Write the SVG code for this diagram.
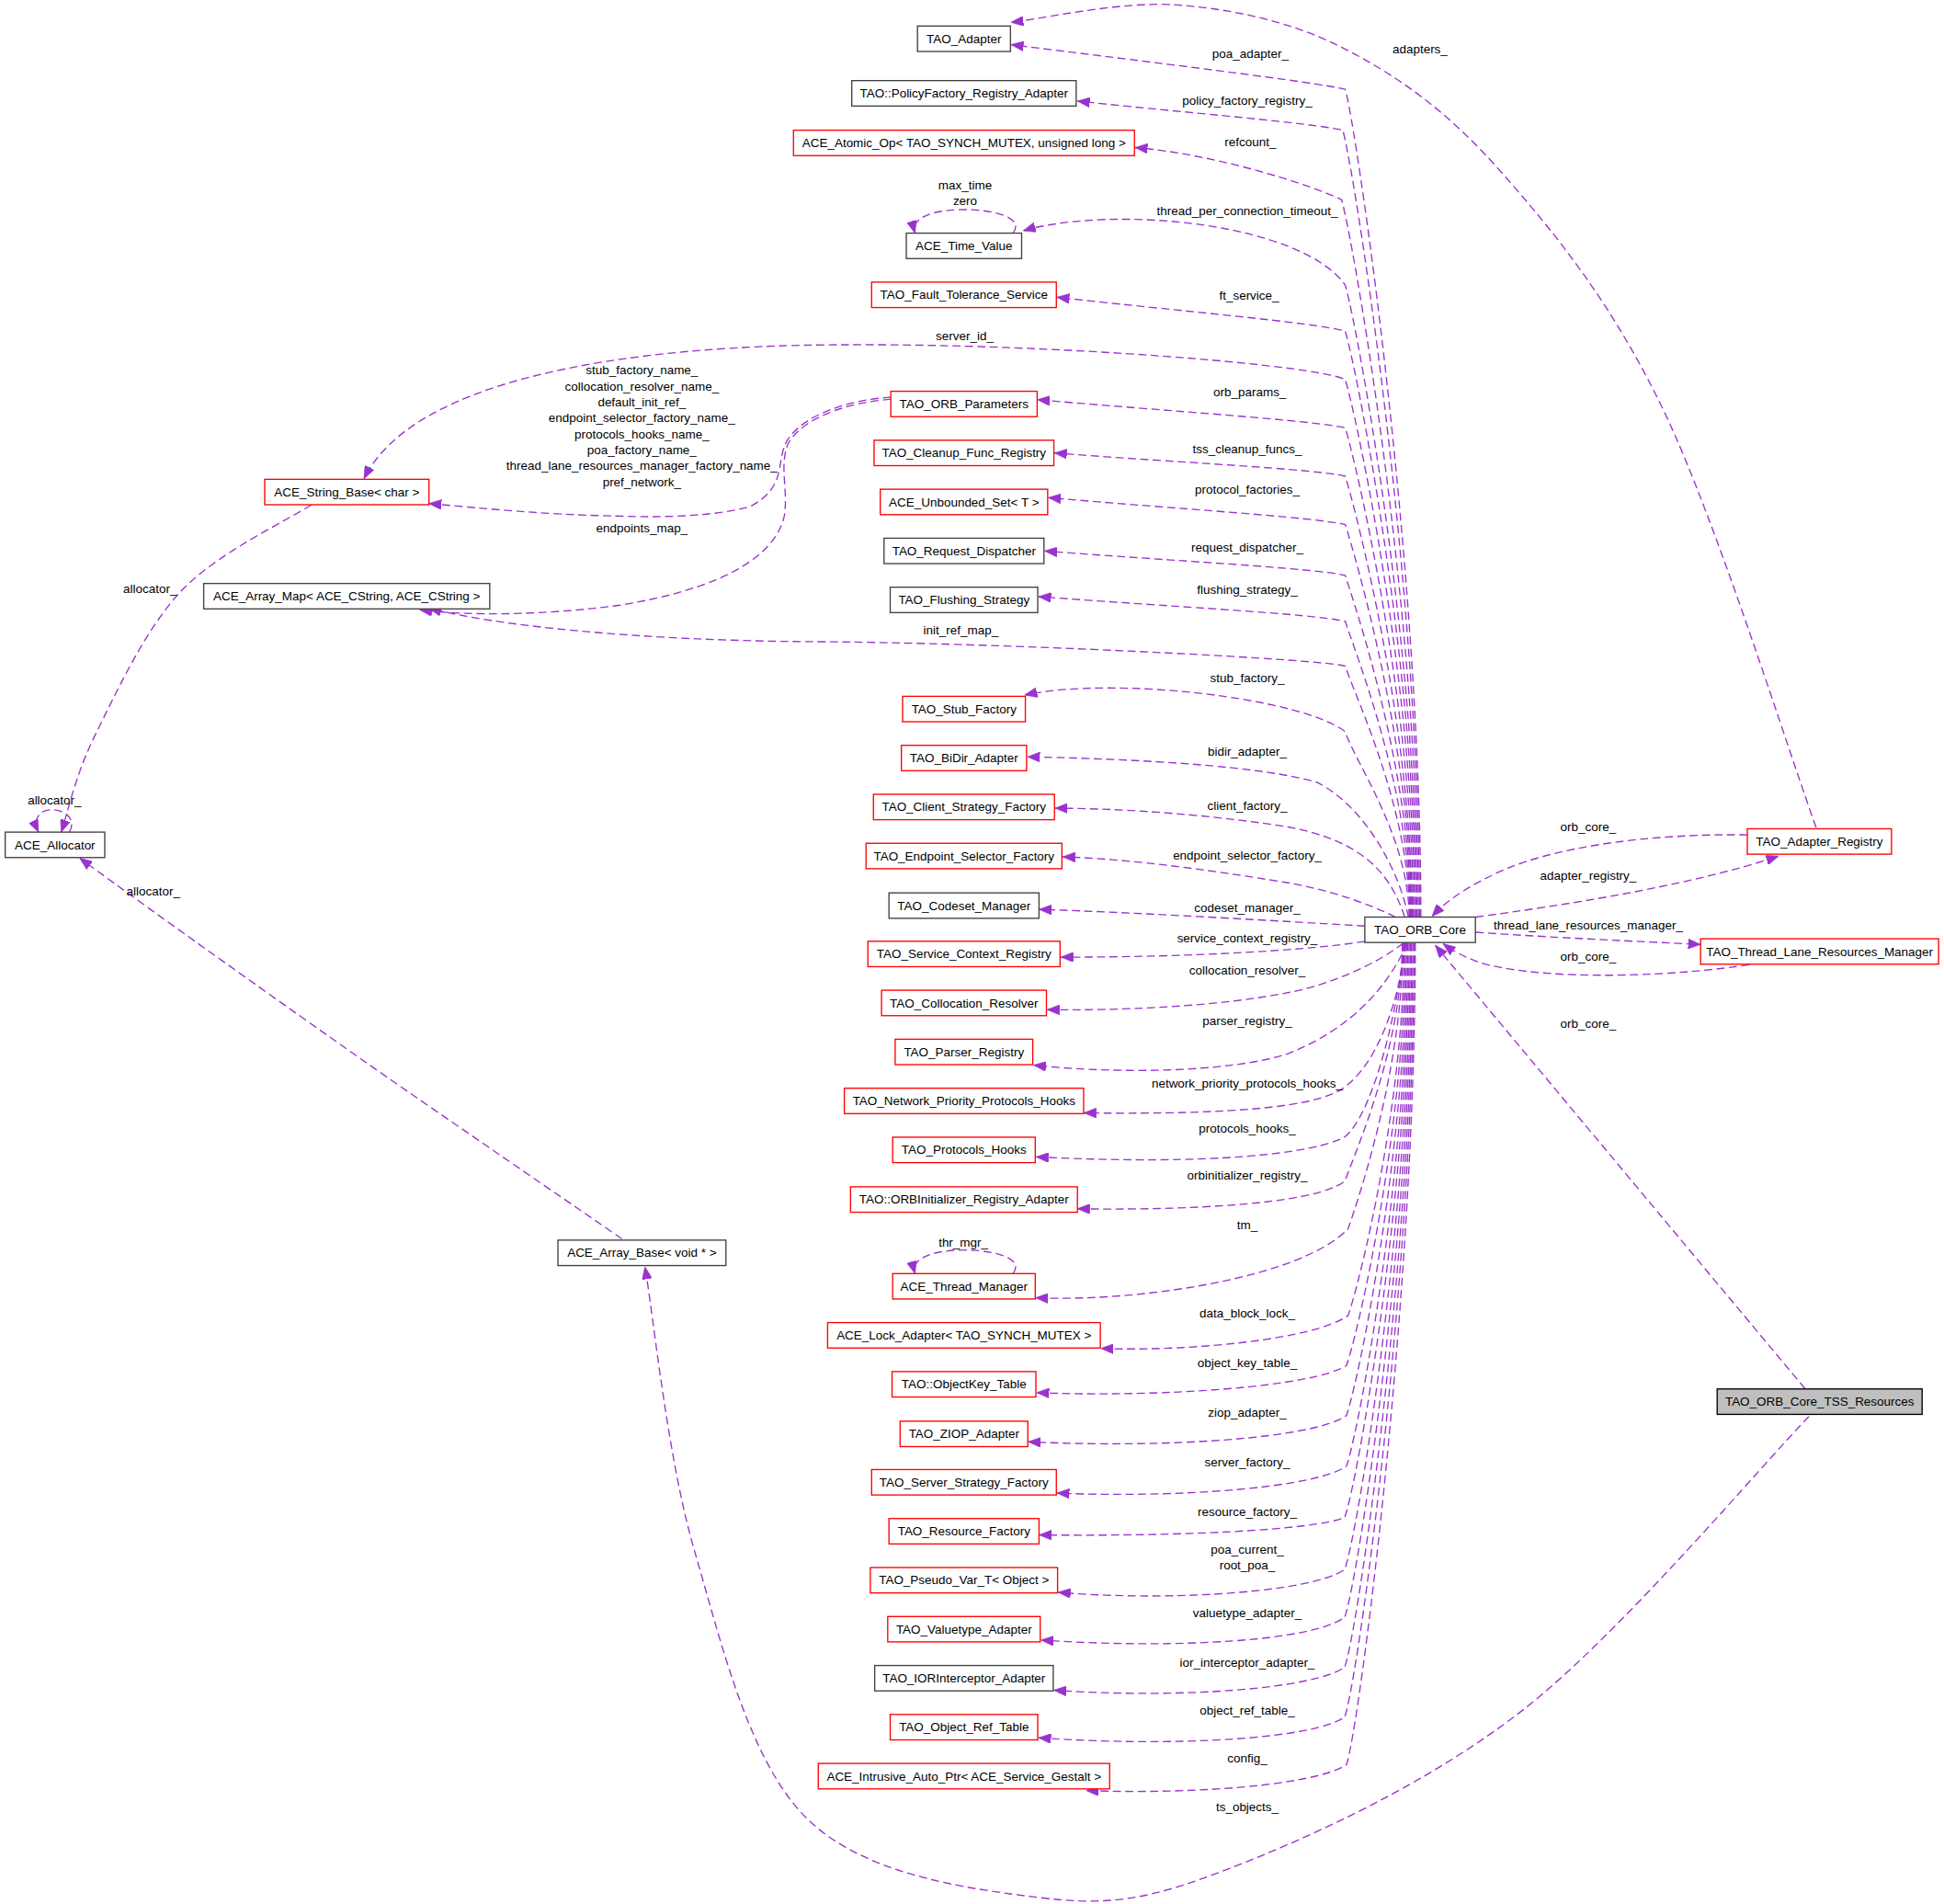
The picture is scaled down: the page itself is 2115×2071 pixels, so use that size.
<svg xmlns="http://www.w3.org/2000/svg" width="2115" height="2071" viewBox="0 0 2115 2071">
<defs>
<style>
text{font-family:"Liberation Sans",Arial,Helvetica,sans-serif;font-size:10px;fill:#000}
.node rect{fill:#fff;stroke:#404040;stroke-width:1}
.node.red rect{stroke:#ff0000}
.node.cur rect{fill:#bfbfbf;stroke:#000}
.node text{text-anchor:middle}
.edges path{fill:none;stroke:#9a32cd;stroke-width:1;stroke-dasharray:6.5 3.5;marker-end:url(#ah)}
.edges text{text-anchor:middle}
</style>
<marker id="ah" viewBox="0 0 10 8" refX="10" refY="4" markerWidth="10" markerHeight="8" markerUnits="userSpaceOnUse" orient="auto">
<path d="M0,0 L10,4 L0,8 z" fill="#9a32cd" stroke="#9a32cd" stroke-width="0.5"/>
</marker>
</defs>
<rect width="2115" height="2071" fill="#fff"/>
<g transform="scale(1.3489)">
<g id="edges" class="edges">
<!-- upper edges from TAO_ORB_Core -->
<path d="M1146,739.5 C1146,452.5 1093,97 1085,72 C1060,66 930,50.4 815.5,36"/>
<path d="M1145,739.5 C1145,466.7 1091,130 1083,105 C1058,99 956,90.9 869,81.5"/>
<path d="M1144,739.5 C1144,490.7 1090,186 1082,161 C1060,150 980,124 915.5,119"/>
<path d="M1143,739.5 C1143,520.4 1093,255 1085,230 C1050,180 900,165 825.3,186"/>
<path d="M1142,739.5 C1142,536.3 1093,292 1085,267 C1060,260 948.8,250.6 852.5,239.7"/>
<path d="M1141,739.5 C1141,553 1093,331 1085,306 C1060,294 850,277 682,278 C560,278 340,292 293.6,386"/>
<path d="M1140,739.5 C1140,569.9 1093,370 1085,345 C1060,339 941,331.4 836.7,322.3"/>
<path d="M1139,739.5 C1139,586.6 1093,409 1085,384 C1060,378 947.8,372.8 850.5,365.3"/>
<path d="M1138.5,739.5 C1138.5,603.4 1093,448 1085,423 C1060,417 945.3,410 845.6,401.3"/>
<path d="M1138,739.5 C1138,621 1093,489 1085,464 C1060,458 943.8,452.2 842.6,444.3"/>
<path d="M1137.5,739.5 C1137.5,637 1093,526 1085,501 C1060,495 941.4,489 837.7,481.1"/>
<path d="M1137,739.5 C1137,652.4 1093,562 1085,537 C1060,531 800,518 652,517.4 C520,516.5 400,505 346,490.3"/>
<path d="M1136.5,739.5 C1136.5,675 1093,615 1085,590 C1050,563 900,545 826.5,560.4"/>
<path d="M1136,739.5 C1128,700 1100,650 1062.5,631 C1020,618 920,612 828.8,610.3"/>
<path d="M1133,739.5 C1120,700 1095,678 1040,667 C990,659 920,652 851,651.7"/>
<path d="M1125.5,739.5 C1105,729 1070,717 1037.8,711.7 C990,704 920,693 857.2,690.9"/>
<path d="M1100.8,746.7 C1020,742 920,736 838.2,733.3"/>
<path d="M1100.8,759 C1060,766 960,772 855.7,771.8"/>
<path d="M1131.7,760.5 C1110,778 1070,795 1037.8,800.6 C990,810 920,815 844.6,814.2"/>
<path d="M1135,760.5 C1120,795 1090,830 1037.8,850 C990,865 900,866 833.7,858.9"/>
<path d="M1134,760.5 C1128,810 1110,860 1082,878.4 C1060,892 1000,899 874.2,897.4"/>
<path d="M1133,760.5 C1125,830 1105,900 1084.8,916.7 C1060,930 980,940 835.7,932.9"/>
<!-- lower edges -->
<path d="M1131,760.5 C1131,843 1095,924 1084.8,952.4 C1060,972 950,976 869,974.7"/>
<path d="M1131.5,760.5 C1131.5,859.6 1097,963 1087.3,990.9 C1050,1030 920,1050 835.2,1046.5"/>
<path d="M1132.5,760.5 C1132.5,889.7 1097,1033 1087.3,1060.9 C1060,1080 960,1090 888,1087.3"/>
<path d="M1133.5,760.5 C1133.5,907 1096,1073 1086,1101.1 C1060,1118 940,1127 836.2,1123"/>
<path d="M1134.5,760.5 C1134.5,924.3 1096,1113 1086,1141.4 C1060,1160 940,1168 829.3,1162.6"/>
<path d="M1135.5,760.5 C1135.5,941.9 1096,1154 1086,1182.3 C1060,1200 950,1208 852.5,1204"/>
<path d="M1136.5,760.5 C1136.5,959.6 1095,1195 1084.6,1223.6 C1060,1234 950,1239 838.2,1237.7"/>
<path d="M1137.5,760.5 C1137.5,977.7 1095,1237 1084.6,1265.6 C1060,1283 950,1292 853.5,1284"/>
<path d="M1138.5,760.5 C1138.5,994.2 1095,1276 1084.6,1304 C1060,1323 950,1330 839.7,1322.5"/>
<path d="M1139.5,760.5 C1139.5,1011.5 1095,1316 1084.6,1344.3 C1060,1362 950,1370 850,1362.9"/>
<path d="M1140.5,760.5 C1140.5,1028.8 1095,1356 1084.6,1384.5 C1060,1402 950,1409 837.7,1401.3"/>
<path d="M1141.5,760.5 C1141.5,1045.4 1096,1395 1086,1423 C1060,1440 960,1447 876,1443.8"/>
<!-- self loops -->
<path d="M817,188 C827,175 800,169 778,169 C756,169 734,174 738,188"/>
<path d="M817,1027 C827,1014 800,1008 778,1008 C756,1008 734,1013 738,1027"/>
<path d="M56,671 C62,660 52,653 42,653 C32,653 26,660 31,671"/>
<!-- left side -->
<path d="M251,407.2 C233.5,418.7 174.9,445.9 145.8,476.9 C116.7,507.9 92.7,560.6 76.6,593 C60.5,625.4 53.9,658 49.4,671"/>
<path d="M501.6,999 C467,975 363,904 296.5,857.7 C230,811 130,740 64.3,692"/>
<path d="M718.5,320.3 C690,322 650,332 635,355 C625,372 636,392 605,408.5 C570,418 520,417 494,416 C440,415 390,410 346,406"/>
<path d="M718.5,322 C690,324 650,334 636,357 C628,375 636,395 632.6,416 C625,450 580,475 500,488 C440,496 380,497 338.5,491.7"/>
<path d="M1459,1142.2 C1420.6,1181.6 1306.6,1318 1228.4,1378.8 C1150.2,1439.7 1055.2,1482.1 990,1507.3 C924.8,1532.5 893.7,1537 837,1530 C780.3,1523 695.9,1512 649.7,1465.3 C603.5,1418.6 581.6,1324 560,1250 C538.4,1176 526.8,1059.6 520.2,1021.5"/>
<!-- right side -->
<path d="M1456,1120 L1157.7,762.3"/>
<path d="M1409.3,673.2 C1330,672 1250,683 1205,705 C1180,717 1165,728 1155,739"/>
<path d="M1190.3,739.5 C1260,730 1360,715 1434.5,690.4"/>
<path d="M1190.3,751.7 C1250,756 1320,759 1371.6,761.6"/>
<path d="M1410.7,777.9 C1360,786 1260,792 1200,778 C1185,774 1172,767 1164,761"/>
<path d="M1464.8,667.2 C1444.3,611.2 1384.2,419.1 1341.8,331 C1299.4,242.9 1253.3,187 1210.5,138.4 C1167.7,89.8 1128.2,61.9 1084.8,39.5 C1041.4,17.1 994.9,7.6 950,4 C905.1,0.4 837.8,15.7 815.4,18"/>
<!-- labels -->
<text x="1145.3" y="43">adapters_</text>
<text x="1008.5" y="46.7">poa_adapter_</text>
<text x="1006" y="84.5">policy_factory_registry_</text>
<text x="1008.5" y="117.7">refcount_</text>
<text x="778.4" y="152.9">max_time</text>
<text x="778.4" y="165.6">zero</text>
<text x="1006" y="173.5">thread_per_connection_timeout_</text>
<text x="1007.5" y="241.5">ft_service_</text>
<text x="778" y="274.2">server_id_</text>
<text x="1008" y="319.3">orb_params_</text>
<text x="1006" y="365.6">tss_cleanup_funcs_</text>
<text x="1006" y="398.2">protocol_factories_</text>
<text x="1006" y="444.5">request_dispatcher_</text>
<text x="1006" y="479.1">flushing_strategy_</text>
<text x="775" y="511.5">init_ref_map_</text>
<text x="1006" y="550.2">stub_factory_</text>
<text x="1006" y="609.6">bidir_adapter_</text>
<text x="1006" y="653.3">client_factory_</text>
<text x="1006" y="693.5">endpoint_selector_factory_</text>
<text x="1006" y="735.2">codeset_manager_</text>
<text x="1006" y="760">service_context_registry_</text>
<text x="1006" y="785.5">collocation_resolver_</text>
<text x="1006" y="826.9">parser_registry_</text>
<text x="1006" y="877">network_priority_protocols_hooks_</text>
<text x="1006" y="913">protocols_hooks_</text>
<text x="1006" y="951.5">orbinitializer_registry_</text>
<text x="1006" y="991.3">tm_</text>
<text x="777" y="1005">thr_mgr_</text>
<text x="1006" y="1062.4">data_block_lock_</text>
<text x="1006" y="1102.5">object_key_table_</text>
<text x="1006" y="1142.7">ziop_adapter_</text>
<text x="1006" y="1182.4">server_factory_</text>
<text x="1006" y="1222.5">resource_factory_</text>
<text x="1006" y="1252.6">poa_current_</text>
<text x="1006" y="1265.6">root_poa_</text>
<text x="1006" y="1304.1">valuetype_adapter_</text>
<text x="1006" y="1343.9">ior_interceptor_adapter_</text>
<text x="1006" y="1382.4">object_ref_table_</text>
<text x="1006" y="1421.3">config_</text>
<text x="1006" y="1460.4">ts_objects_</text>
<text x="517.7" y="301.7">stub_factory_name_</text>
<text x="517.7" y="315.1">collocation_resolver_name_</text>
<text x="517.7" y="327.5">default_init_ref_</text>
<text x="517.7" y="340.5">endpoint_selector_factory_name_</text>
<text x="517.7" y="353.8">protocols_hooks_name_</text>
<text x="517.7" y="366.2">poa_factory_name_</text>
<text x="517.7" y="378.6">thread_lane_resources_manager_factory_name_</text>
<text x="517.7" y="392.1">pref_network_</text>
<text x="517.7" y="429.3">endpoints_map_</text>
<text x="121" y="478.5">allocator_</text>
<text x="44" y="648.9">allocator_</text>
<text x="123.6" y="722">allocator_</text>
<text x="1281" y="670.5">orb_core_</text>
<text x="1281" y="709.5">adapter_registry_</text>
<text x="1281" y="749.5">thread_lane_resources_manager_</text>
<text x="1281" y="775">orb_core_</text>
<text x="1281" y="829">orb_core_</text>
</g>
<!-- nodes -->
<g id="n_TAO_Adapter" class="node"><rect x="740" y="21" width="75" height="20.5"/><text x="777.5" y="34.7">TAO_Adapter</text></g>
<g id="n_PolicyFactory_Registry_Adapter" class="node"><rect x="687" y="65" width="181" height="20.5"/><text x="777.5" y="78.7">TAO::PolicyFactory_Registry_Adapter</text></g>
<g id="n_ACE_Atomic_Op" class="node red"><rect x="640" y="105" width="275" height="20.5"/><text x="777.5" y="118.7">ACE_Atomic_Op&lt; TAO_SYNCH_MUTEX, unsigned long &gt;</text></g>
<g id="n_ACE_Time_Value" class="node"><rect x="731" y="188" width="93" height="20.5"/><text x="777.5" y="201.7">ACE_Time_Value</text></g>
<g id="n_TAO_Fault_Tolerance_Service" class="node red"><rect x="703" y="227.5" width="149" height="20.5"/><text x="777.5" y="241.2">TAO_Fault_Tolerance_Service</text></g>
<g id="n_TAO_ORB_Parameters" class="node red"><rect x="718.5" y="315.5" width="118" height="20.5"/><text x="777.5" y="329.2">TAO_ORB_Parameters</text></g>
<g id="n_TAO_Cleanup_Func_Registry" class="node red"><rect x="705" y="355" width="145" height="20.5"/><text x="777.5" y="368.7">TAO_Cleanup_Func_Registry</text></g>
<g id="n_ACE_Unbounded_Set" class="node red"><rect x="710" y="394.5" width="135" height="20.5"/><text x="777.5" y="408.2">ACE_Unbounded_Set&lt; T &gt;</text></g>
<g id="n_TAO_Request_Dispatcher" class="node"><rect x="713" y="434" width="129" height="20.5"/><text x="777.5" y="447.7">TAO_Request_Dispatcher</text></g>
<g id="n_TAO_Flushing_Strategy" class="node"><rect x="718" y="473.5" width="119" height="20.5"/><text x="777.5" y="487.2">TAO_Flushing_Strategy</text></g>
<g id="n_TAO_Stub_Factory" class="node red"><rect x="728" y="561.5" width="99" height="20.5"/><text x="777.5" y="575.2">TAO_Stub_Factory</text></g>
<g id="n_TAO_BiDir_Adapter" class="node red"><rect x="727" y="601" width="101" height="20.5"/><text x="777.5" y="614.7">TAO_BiDir_Adapter</text></g>
<g id="n_TAO_Client_Strategy_Factory" class="node red"><rect x="704.5" y="640.5" width="146" height="20.5"/><text x="777.5" y="654.2">TAO_Client_Strategy_Factory</text></g>
<g id="n_TAO_Endpoint_Selector_Factory" class="node red"><rect x="698.5" y="680" width="158" height="20.5"/><text x="777.5" y="693.7">TAO_Endpoint_Selector_Factory</text></g>
<g id="n_TAO_Codeset_Manager" class="node"><rect x="717" y="720" width="121" height="20.5"/><text x="777.5" y="733.7">TAO_Codeset_Manager</text></g>
<g id="n_TAO_Service_Context_Registry" class="node red"><rect x="700" y="759" width="155" height="20.5"/><text x="777.5" y="772.7">TAO_Service_Context_Registry</text></g>
<g id="n_TAO_Collocation_Resolver" class="node red"><rect x="711" y="798.5" width="133" height="20.5"/><text x="777.5" y="812.2">TAO_Collocation_Resolver</text></g>
<g id="n_TAO_Parser_Registry" class="node red"><rect x="722" y="838" width="111" height="20.5"/><text x="777.5" y="851.7">TAO_Parser_Registry</text></g>
<g id="n_TAO_Network_Priority_Protocols_Hooks" class="node red"><rect x="681" y="877.5" width="193" height="20.5"/><text x="777.5" y="891.2">TAO_Network_Priority_Protocols_Hooks</text></g>
<g id="n_TAO_Protocols_Hooks" class="node red"><rect x="720" y="917" width="115" height="20.5"/><text x="777.5" y="930.7">TAO_Protocols_Hooks</text></g>
<g id="n_ORBInitializer_Registry_Adapter" class="node red"><rect x="686" y="957" width="183" height="20.5"/><text x="777.5" y="970.7">TAO::ORBInitializer_Registry_Adapter</text></g>
<g id="n_ACE_Thread_Manager" class="node red"><rect x="720" y="1027" width="115" height="20.5"/><text x="777.5" y="1040.7">ACE_Thread_Manager</text></g>
<g id="n_ACE_Lock_Adapter" class="node red"><rect x="667.5" y="1066.5" width="220" height="20.5"/><text x="777.5" y="1080.2">ACE_Lock_Adapter&lt; TAO_SYNCH_MUTEX &gt;</text></g>
<g id="n_ObjectKey_Table" class="node red"><rect x="719.5" y="1106" width="116" height="20.5"/><text x="777.5" y="1119.7">TAO::ObjectKey_Table</text></g>
<g id="n_TAO_ZIOP_Adapter" class="node red"><rect x="726" y="1146" width="103" height="20.5"/><text x="777.5" y="1159.7">TAO_ZIOP_Adapter</text></g>
<g id="n_TAO_Server_Strategy_Factory" class="node red"><rect x="703" y="1185" width="149" height="20.5"/><text x="777.5" y="1198.7">TAO_Server_Strategy_Factory</text></g>
<g id="n_TAO_Resource_Factory" class="node red"><rect x="717" y="1224.5" width="121" height="20.5"/><text x="777.5" y="1238.2">TAO_Resource_Factory</text></g>
<g id="n_TAO_Pseudo_Var_T" class="node red"><rect x="702" y="1264" width="151" height="20.5"/><text x="777.5" y="1277.7">TAO_Pseudo_Var_T&lt; Object &gt;</text></g>
<g id="n_TAO_Valuetype_Adapter" class="node red"><rect x="716" y="1303.5" width="123" height="20.5"/><text x="777.5" y="1317.2">TAO_Valuetype_Adapter</text></g>
<g id="n_TAO_IORInterceptor_Adapter" class="node"><rect x="705.5" y="1343" width="144" height="20.5"/><text x="777.5" y="1356.7">TAO_IORInterceptor_Adapter</text></g>
<g id="n_TAO_Object_Ref_Table" class="node red"><rect x="718" y="1382.5" width="119" height="20.5"/><text x="777.5" y="1396.2">TAO_Object_Ref_Table</text></g>
<g id="n_ACE_Intrusive_Auto_Ptr" class="node red"><rect x="660" y="1422" width="235" height="20.5"/><text x="777.5" y="1435.7">ACE_Intrusive_Auto_Ptr&lt; ACE_Service_Gestalt &gt;</text></g>
<g id="n_ACE_String_Base" class="node red"><rect x="213.5" y="386.5" width="132.5" height="20.5"/><text x="279.75" y="400.2">ACE_String_Base&lt; char &gt;</text></g>
<g id="n_ACE_Array_Map" class="node"><rect x="164.3" y="470.5" width="230.7" height="20.5"/><text x="279.65" y="484.2">ACE_Array_Map&lt; ACE_CString, ACE_CString &gt;</text></g>
<g id="n_ACE_Allocator" class="node"><rect x="4.2" y="671" width="80.3" height="20.5"/><text x="44.35" y="684.7">ACE_Allocator</text></g>
<g id="n_ACE_Array_Base" class="node"><rect x="450" y="1000" width="135.5" height="20.5"/><text x="517.75" y="1013.7">ACE_Array_Base&lt; void * &gt;</text></g>
<g id="n_TAO_ORB_Core" class="node"><rect x="1100.8" y="739.5" width="89.2" height="20.5"/><text x="1145.4" y="753.2">TAO_ORB_Core</text></g>
<g id="n_TAO_Adapter_Registry" class="node red"><rect x="1409.3" y="668.3" width="116.3" height="20.5"/><text x="1467.45" y="682">TAO_Adapter_Registry</text></g>
<g id="n_TAO_Thread_Lane_Resources_Manager" class="node red"><rect x="1371.6" y="757" width="192" height="20.5"/><text x="1467.6" y="770.7">TAO_Thread_Lane_Resources_Manager</text></g>
<g id="n_TAO_ORB_Core_TSS_Resources" class="node cur"><rect x="1385" y="1120" width="165.3" height="20.5"/><text x="1467.65" y="1133.7">TAO_ORB_Core_TSS_Resources</text></g>
</g>
</svg>
